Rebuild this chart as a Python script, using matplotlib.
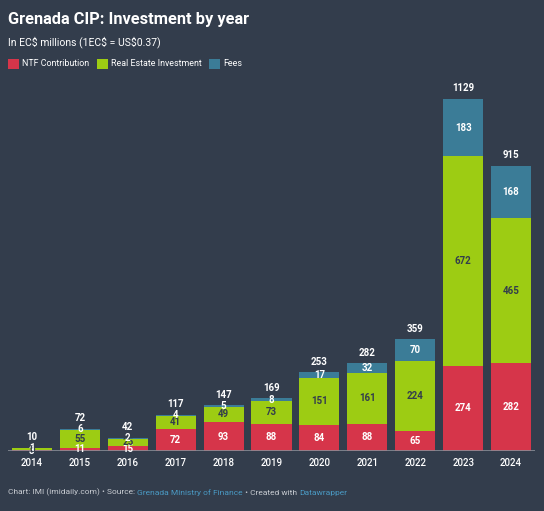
import matplotlib
matplotlib.use("Agg")
import matplotlib.pyplot as plt
from matplotlib.patches import Rectangle
import numpy as np

years = ["2014", "2015", "2016", "2017", "2018", "2019", "2020", "2021", "2022", "2023", "2024"]
ntf = [3, 11, 15, 72, 93, 88, 84, 88, 65, 274, 282]
real_estate = [6, 55, 25, 41, 49, 73, 151, 161, 224, 672, 465]
fees = [1, 6, 2, 4, 5, 8, 17, 32, 70, 183, 168]
totals = [10, 72, 42, 117, 147, 169, 253, 282, 359, 1129, 915]

BG = "#333d4c"
RED = "#d6354a"
GREEN = "#9dcc13"
BLUE = "#3b7c97"
FONT = "Roboto"

fig = plt.figure(figsize=(5.44, 5.11), dpi=100, facecolor=BG)
W, H = 544, 511
ax = fig.add_axes([8 / W, 60 / H, 527 / W, 371 / H])
ax.set_facecolor(BG)

x = np.arange(len(years))
bw = 0.835
ntf_a = np.array(ntf)
re_a = np.array(real_estate)
fe_a = np.array(fees)
ax.bar(x, ntf_a, bw, color=RED, zorder=2)
ax.bar(x, re_a, bw, bottom=ntf_a, color=GREEN, zorder=2)
ax.bar(x, fe_a, bw, bottom=ntf_a + re_a, color=BLUE, zorder=2)

ax.set_xlim(-0.5, len(years) - 0.5)
ax.set_ylim(0, 1190)
for s in ax.spines.values():
    s.set_visible(False)
ax.axhline(0, color="#888d96", lw=1.2, zorder=3)
ax.set_yticks([])
ax.set_xticks(x)
ax.set_xticklabels(years, color="white", fontsize=7, family=FONT, fontweight="medium")
ax.tick_params(axis="x", length=0, pad=5)

lbl = dict(ha="center", va="center", fontsize=7, family=FONT, fontweight="bold", zorder=4)
for i in range(len(years)):
    ax.text(x[i], ntf_a[i] / 2, str(ntf[i]), color="white", **lbl)
    ax.text(x[i], ntf_a[i] + re_a[i] / 2, str(real_estate[i]), color="#333d4c", **lbl)
    ax.text(x[i], ntf_a[i] + re_a[i] + fe_a[i] / 2, str(fees[i]), color="white", **lbl)
    top = ntf_a[i] + re_a[i] + fe_a[i]
    ax.annotate(str(totals[i]), (x[i], top), xytext=(0, 4), textcoords="offset points",
                ha="center", va="bottom", color="white", fontsize=7, family=FONT,
                fontweight="bold", zorder=4)

fig.text(8 / W, 1 - 19 / H, "Grenada CIP: Investment by year", color="white",
         fontsize=11.8, fontweight="bold", family=FONT, va="center", ha="left")
fig.text(8 / W, 1 - 42 / H, "In EC$ millions (1EC$ = US$0.37)", color="white",
         fontsize=7.5, family=FONT, va="center", ha="left")

legend_items = [("NTF Contribution", RED, 8), ("Real Estate Investment", GREEN, 97), ("Fees", BLUE, 209)]
for name, col, px in legend_items:
    fig.patches.append(Rectangle((px / W, 1 - 69 / H), 11 / W, 10 / H, transform=fig.transFigure,
                                 facecolor=col, edgecolor="none"))
    fig.text((px + 14) / W, 1 - 63.5 / H, name, color="white", fontsize=6.4, family=FONT,
             va="center", ha="left")

# footer
fy = 1 - 492.5 / H
parts = [("Chart: IMI (imidaily.com) • Source: ", "#c8ccd2"),
         ("Grenada Ministry of Finance", "#4a9ac4"),
         (" • Created with ", "#c8ccd2"),
         ("Datawrapper", "#4a9ac4")]
fig.canvas.draw()
renderer = fig.canvas.get_renderer()
cx = 8 / W
for txt, col in parts:
    t = fig.text(cx, fy, txt, color=col, fontsize=6.0, family=FONT, va="center", ha="left")
    bb = t.get_window_extent(renderer=renderer)
    cx += bb.width / fig.bbox.width

fig.savefig("out.png", dpi=100, facecolor=BG)
